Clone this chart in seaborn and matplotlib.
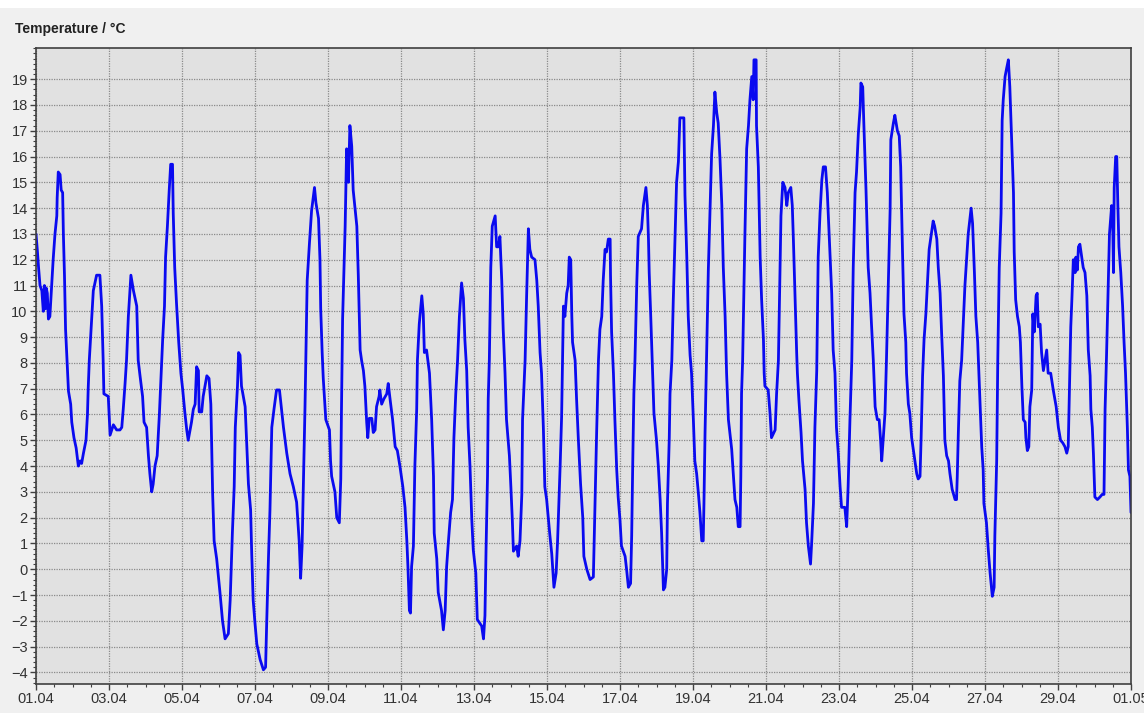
import numpy as np
import pandas as pd
import matplotlib
matplotlib.use("Agg")
import matplotlib.pyplot as plt
import matplotlib.dates as mdates
from matplotlib.ticker import MultipleLocator
import seaborn as sns

# ------------------------------------------------
# DATA
# ------------------------------------------------

START = "2015-04-01"

# days since 01.04 00:00
day_offset = [
    0.00, 0.04, 0.07, 0.11, 0.16, 0.20, 0.23, 0.26, 0.28, 0.31, 0.34, 0.38, 0.43, 0.47, 0.52, 0.57,
    0.58, 0.61, 0.66, 0.69, 0.73, 0.75, 0.78, 0.81, 0.86, 0.89, 0.95, 0.98, 1.04, 1.10, 1.16, 1.21,
    1.25, 1.30, 1.37, 1.41, 1.43, 1.46, 1.53, 1.57, 1.66, 1.75, 1.80, 1.84, 1.86, 1.98, 2.03, 2.12,
    2.21, 2.30, 2.35, 2.39, 2.44, 2.48, 2.53, 2.60, 2.67, 2.76, 2.80, 2.85, 2.92, 2.96, 3.03, 3.08,
    3.12, 3.17, 3.21, 3.26, 3.32, 3.38, 3.42, 3.47, 3.52, 3.55, 3.60, 3.65, 3.69, 3.74, 3.76, 3.80,
    3.85, 3.91, 3.97, 4.02, 4.08, 4.13, 4.17, 4.22, 4.26, 4.31, 4.36, 4.40, 4.45, 4.47, 4.54, 4.58,
    4.68, 4.74, 4.79, 4.84, 4.88, 4.95, 5.04, 5.11, 5.18, 5.27, 5.32, 5.38, 5.43, 5.46, 5.52, 5.55,
    5.59, 5.63, 5.73, 5.77, 5.82, 5.88, 5.91, 5.95, 6.00, 6.05, 6.14, 6.23, 6.29, 6.32, 6.37, 6.41,
    6.46, 6.52, 6.59, 6.67, 6.78, 6.87, 6.96, 7.05, 7.14, 7.21, 7.25, 7.29, 7.32, 7.37, 7.40, 7.43,
    7.49, 7.55, 7.63, 7.67, 7.74, 7.78, 7.80, 7.84, 7.87, 7.94, 8.04, 8.07, 8.10, 8.19, 8.24, 8.31,
    8.35, 8.37, 8.40, 8.47, 8.51, 8.56, 8.60, 8.65, 8.69, 8.79, 8.83, 8.88, 8.92, 8.97, 9.01, 9.06,
    9.09, 9.13, 9.20, 9.24, 9.29, 9.33, 9.40, 9.42, 9.47, 9.53, 9.61, 9.65, 9.70, 9.77, 9.84, 9.90,
    9.97, 10.05, 10.11, 10.16, 10.19, 10.23, 10.26, 10.29, 10.34, 10.38, 10.43, 10.45, 10.50, 10.57,
    10.61, 10.64, 10.70, 10.78, 10.84, 10.89, 10.91, 10.98, 11.02, 11.11, 11.16, 11.21, 11.25, 11.30,
    11.36, 11.41, 11.45, 11.50, 11.55, 11.60, 11.66, 11.71, 11.75, 11.80, 11.84, 11.89, 11.94, 11.98,
    12.05, 12.09, 12.16, 12.21, 12.26, 12.30, 12.33, 12.37, 12.39, 12.42, 12.46, 12.50, 12.58, 12.62,
    12.67, 12.71, 12.76, 12.80, 12.85, 12.89, 12.97, 13.01, 13.05, 13.08, 13.17, 13.21, 13.26, 13.31,
    13.33, 13.40, 13.44, 13.49, 13.53, 13.58, 13.67, 13.72, 13.76, 13.81, 13.85, 13.90, 13.94, 13.99,
    14.08, 14.13, 14.19, 14.25, 14.29, 14.36, 14.40, 14.45, 14.49, 14.54, 14.58, 14.61, 14.65, 14.68,
    14.70, 14.77, 14.81, 14.86, 14.92, 14.98, 15.01, 15.09, 15.18, 15.27, 15.32, 15.36, 15.41, 15.45,
    15.50, 15.54, 15.59, 15.63, 15.68, 15.73, 15.74, 15.77, 15.82, 15.86, 15.91, 15.95, 16.00, 16.04,
    16.14, 16.18, 16.23, 16.29, 16.32, 16.35, 16.38, 16.41, 16.46, 16.50, 16.59, 16.64, 16.71, 16.75,
    16.78, 16.80, 16.84, 16.89, 16.93, 17.00, 17.05, 17.10, 17.14, 17.19, 17.23, 17.28, 17.30, 17.35,
    17.37, 17.42, 17.46, 17.51, 17.55, 17.60, 17.64, 17.75, 17.78, 17.83, 17.87, 17.92, 17.96, 18.01,
    18.05, 18.10, 18.15, 18.19, 18.24, 18.28, 18.30, 18.33, 18.37, 18.42, 18.47, 18.51, 18.56, 18.60,
    18.65, 18.69, 18.74, 18.79, 18.83, 18.88, 18.92, 18.97, 19.06, 19.11, 19.15, 19.20, 19.24, 19.29,
    19.31, 19.33, 19.36, 19.42, 19.47, 19.52, 19.56, 19.61, 19.65, 19.67, 19.73, 19.74, 19.79, 19.84,
    19.88, 19.93, 19.95, 19.97, 20.06, 20.11, 20.15, 20.25, 20.29, 20.34, 20.38, 20.41, 20.46, 20.52,
    20.57, 20.61, 20.68, 20.72, 20.75, 20.79, 20.84, 20.86, 20.90, 20.96, 21.00, 21.07, 21.11, 21.16,
    21.22, 21.25, 21.30, 21.34, 21.39, 21.43, 21.48, 21.53, 21.57, 21.63, 21.68, 21.73, 21.80, 21.84,
    21.89, 21.93, 21.98, 22.03, 22.07, 22.16, 22.21, 22.25, 22.30, 22.35, 22.39, 22.44, 22.48, 22.53,
    22.58, 22.60, 22.65, 22.68, 22.74, 22.80, 22.85, 22.89, 22.94, 22.99, 23.05, 23.10, 23.14, 23.17,
    23.21, 23.26, 23.30, 23.35, 23.40, 23.42, 23.49, 23.53, 23.60, 23.65, 23.69, 23.74, 23.78, 23.83,
    23.85, 23.90, 23.94, 23.99, 24.04, 24.08, 24.13, 24.17, 24.22, 24.25, 24.29, 24.33, 24.38, 24.42,
    24.47, 24.53, 24.58, 24.62, 24.68, 24.72, 24.77, 24.81, 24.86, 24.90, 24.95, 25.00, 25.04, 25.10,
    25.18, 25.22, 25.24, 25.27, 25.31, 25.36, 25.41, 25.45, 25.50, 25.54, 25.62, 25.66, 25.71, 25.75,
    25.80, 25.84, 25.91, 25.95, 25.97, 26.04, 26.09, 26.14, 26.20, 26.25, 26.27, 26.32, 26.35, 26.39,
    26.44, 26.47, 26.50, 26.55, 26.59, 26.64, 26.68, 26.73, 26.78, 26.80, 26.84, 26.89, 26.94, 26.97,
    27.01, 27.05, 27.10, 27.12, 27.16, 27.20, 27.23, 27.28, 27.31, 27.35, 27.40, 27.43, 27.46, 27.51,
    27.55, 27.60, 27.69, 27.73, 27.80, 27.87, 27.95, 28.01, 28.07, 28.13, 28.19, 28.24, 28.28, 28.31,
    28.35, 28.38, 28.42, 28.47, 28.49, 28.53, 28.56, 28.60, 28.65, 28.69, 28.74, 28.79, 28.83, 28.88,
    28.90, 28.94, 28.97, 29.01, 29.08, 29.15, 29.21, 29.26, 29.29, 29.33, 29.38, 29.41, 29.47, 29.50,
    29.52, 29.54, 29.58, 29.61, 29.64, 29.67, 29.72, 29.77, 29.81, 29.85, 29.90, 29.93, 29.97, 30.00,
]

temperature = [
    13.0, 12.3, 11.7, 11.0, 10.8, 10.0, 11.0, 10.1, 10.9, 10.7, 9.7, 9.8, 11.0, 12.0, 13.0, 13.7,
    14.4, 15.4, 15.3, 14.7, 14.6, 13.0, 11.4, 9.3, 7.8, 6.9, 6.4, 5.7, 5.1, 4.7, 4.0, 4.2,
    4.1, 4.5, 5.0, 6.0, 7.0, 8.1, 9.8, 10.8, 11.4, 11.4, 10.2, 8.1, 6.8, 6.7, 5.2, 5.6,
    5.4, 5.4, 5.5, 6.2, 7.2, 8.1, 9.8, 11.4, 10.8, 10.2, 8.1, 7.5, 6.7, 5.7, 5.5, 4.4,
    3.7, 3.0, 3.3, 4.0, 4.4, 6.0, 7.3, 8.9, 10.2, 12.1, 13.3, 14.7, 15.7, 15.7, 13.8, 11.7,
    10.3, 8.8, 7.6, 6.95, 6.05, 5.4, 5.0, 5.4, 5.7, 6.2, 6.4, 7.85, 7.7, 6.1, 6.1, 6.7,
    7.5, 7.4, 6.4, 2.9, 1.1, 0.4, -0.9, -2.0, -2.7, -2.5, -1.2, 1.4, 3.2, 5.5, 7.1, 8.4,
    8.3, 7.1, 6.3, 5.0, 3.3, 2.3, 0.6, -1.2, -2.1, -2.9, -3.5, -3.9, -3.8, -2.1, 0.5, 2.3,
    5.5, 6.2, 6.95, 6.95, 5.5, 4.5, 3.7, 3.2, 2.6, 1.1, -0.35, 0.9, 2.9, 6.3, 8.8, 11.2,
    12.6, 13.9, 14.8, 14.2, 13.6, 12.0, 10.1, 8.4, 7.4, 5.8, 5.4, 4.2, 3.6, 3.0, 2.0, 1.8,
    3.5, 6.3, 9.7, 13.3, 16.3, 15.0, 17.2, 16.4, 14.7, 13.3, 11.4, 8.5, 8.1, 7.7, 7.1, 5.7,
    5.1, 5.85, 5.85, 5.3, 5.4, 6.3, 6.7, 6.95, 6.4, 6.6, 6.8, 7.2, 6.6, 5.8, 4.75, 4.6,
    4.0, 3.2, 2.4, 1.1, 0.1, -1.6, -1.7, 0.1, 0.9, 4.0, 6.2, 8.1, 9.5, 10.6,
    9.9, 8.4, 8.5, 7.6, 5.8, 3.6, 1.4, 0.4, -0.9, -1.6, -2.35, -1.6, 0.1, 1.1,
    2.2, 2.7, 5.1, 6.8, 8.1, 9.8, 11.1, 10.5, 8.9, 7.7, 5.5, 4.0, 1.9, 0.75,
    -0.15, -1.95, -2.1, -2.2, -2.7, -1.8, 0.75, 3.6, 6.6, 8.1, 11.7, 13.3, 13.7, 12.5,
    12.5, 12.9, 11.2, 9.3, 7.6, 5.8, 4.4, 3.2, 1.9, 0.7, 0.9, 0.5, 1.1, 2.9,
    5.8, 8.1, 10.5, 13.2, 12.4, 12.1, 12.0, 11.2, 10.2, 8.4, 7.6, 5.5, 3.2, 2.7,
    1.3, 0.6, -0.7, -0.15, 1.1, 4.0, 5.9, 10.2, 9.8, 10.7, 11.0, 12.1, 12.0, 9.8,
    8.8, 8.1, 6.6, 5.0, 3.3, 2.0, 0.5, 0.0, -0.4, -0.3, 2.9, 5.3, 8.1, 9.3,
    9.8, 11.2, 12.4, 12.3, 12.8, 12.8, 11.4, 9.2, 7.6, 5.8, 3.85, 2.8, 1.9, 0.9,
    0.5, 0.0, -0.7, -0.55, 1.3, 4.2, 6.8, 8.1, 11.1, 12.9, 13.2, 14.1, 14.8, 14.1,
    12.8, 11.5, 9.9, 7.7, 6.05, 5.0, 4.0, 2.7, 1.4, -0.8, -0.7, 0.0, 2.55, 5.1,
    6.8, 8.1, 10.45, 13.0, 15.0, 15.8, 17.5, 17.5, 14.5, 12.1, 9.8, 8.3, 7.6, 5.8,
    4.2, 3.7, 2.9, 2.2, 1.1, 1.1, 2.55, 5.3, 8.1, 11.6, 14.1, 16.1, 17.2, 18.5,
    17.7, 17.3, 15.9, 14.1, 11.7, 9.8, 7.6, 5.8, 4.65, 3.6, 2.7, 2.4, 1.65, 1.65,
    3.6, 6.8, 8.1, 12.8, 16.3, 17.2, 18.2, 19.1, 18.2, 19.75, 19.75, 17.2, 15.6, 12.1,
    10.45, 8.9, 7.6, 7.1, 6.95, 6.05, 5.1, 5.4, 6.8, 8.1, 11.2, 13.7, 15.0, 14.8,
    14.1, 14.6, 14.8, 14.1, 12.8, 10.8, 8.4, 7.6, 6.6, 5.3, 4.2, 3.1, 1.8, 0.9,
    0.2, 1.0, 2.55, 5.5, 7.7, 12.1, 13.8, 15.1, 15.6, 15.6, 14.6, 13.0, 10.7, 8.5,
    7.6, 5.5, 4.5, 3.2, 2.4, 2.4, 1.65, 3.2, 5.8, 8.1, 11.7, 14.6, 15.4, 16.9,
    17.9, 18.85, 18.7, 17.3, 14.7, 11.7, 10.7, 9.5, 8.1, 6.3, 5.8, 5.8, 5.0, 4.2,
    5.0, 6.05, 8.1, 11.0, 13.9, 16.65, 17.3, 17.6, 17.0, 16.8, 15.6, 12.3, 9.9, 8.8,
    7.6, 6.4, 6.05, 5.1, 4.6, 4.2, 3.7, 3.5, 3.6, 5.1, 7.5, 8.9, 9.9, 11.0,
    12.4, 13.0, 13.5, 13.3, 12.8, 11.7, 10.7, 9.2, 7.5, 5.0, 4.4, 4.2, 3.7, 3.1,
    2.7, 2.7, 3.6, 5.3, 7.3, 8.1, 9.7, 11.0, 12.1, 13.0, 14.0, 13.4, 11.5, 9.8,
    8.8, 7.3, 4.75, 3.85, 2.55, 1.8, 0.75, -0.15, -1.05, -0.7, 1.3, 4.2, 8.1, 11.7,
    13.8, 17.4, 18.2, 19.1, 19.4, 19.75, 18.7, 16.65, 14.6, 12.3, 10.45, 9.8, 9.4, 8.8,
    7.1, 5.8, 5.7, 5.1, 4.6, 4.75, 6.3, 6.95, 9.9, 9.2, 10.6, 10.7, 9.4, 9.5,
    8.4, 7.7, 8.5, 7.6, 7.6, 6.95, 6.3, 5.5, 5.0, 4.9, 4.75, 4.5, 4.75, 6.8,
    9.4, 10.45, 12.0, 11.5, 12.1, 11.6, 12.5, 12.6, 12.1, 11.7, 11.5, 10.6, 8.5, 7.5,
    6.2, 5.5, 4.5, 2.8, 2.7, 2.8, 2.9, 2.9, 6.2, 8.3, 11.2, 13.0, 14.1, 13.3,
    11.5, 14.8, 16.0, 16.0, 14.1, 12.5, 11.5, 10.2, 8.8, 7.6, 5.5, 3.85, 3.6, 2.2,
]

y_ticks = list(range(-4, 20))
x_tick_days = list(range(0, 31, 2))

# ------------------------------------------------
# PLOT
# ------------------------------------------------

df = pd.DataFrame({
    "time": pd.Timestamp(START) + pd.to_timedelta(day_offset, unit="D"),
    "temp": temperature,
})

sns.set_style("white")
plt.rcParams["font.family"] = ["Liberation Sans", "DejaVu Sans"]

fig = plt.figure(figsize=(11.44, 7.13), dpi=100)
fig.patch.set_facecolor("#f0f0f0")
fig.patches.append(plt.Rectangle((0, 1 - 8 / 713), 1, 8 / 713, transform=fig.transFigure,
                                 facecolor="white", edgecolor="none", zorder=0))

ax = fig.add_axes([36 / 1144, 1 - 684 / 713, (1131 - 36) / 1144, (684 - 47.7) / 713])
ax.set_facecolor("#e1e1e1")

sns.lineplot(data=df, x="time", y="temp", ax=ax, estimator=None, sort=False,
             color="#0a0af0", linewidth=2.0)

start = pd.Timestamp(START)
ax.set_xlim(start, start + pd.Timedelta(days=30))
ax.set_ylim(-4.45, 20.22)

ax.set_xticks([start + pd.Timedelta(days=d) for d in x_tick_days])
ax.xaxis.set_major_formatter(mdates.DateFormatter("%d.%m"))
ax.xaxis.set_minor_locator(mdates.HourLocator(byhour=[0, 12]))
ax.set_yticks(y_ticks)
ax.yaxis.set_minor_locator(MultipleLocator(0.2))

ax.grid(True, which="major", color="#8a8a8a", linestyle=(0, (1, 1)), linewidth=0.9)
ax.tick_params(which="major", direction="out", length=4, width=1, color="#404040",
               labelsize=10.5, labelcolor="#333333", pad=2)
ax.tick_params(which="minor", direction="out", length=2, width=0.8, color="#404040")
ax.tick_params(axis="y", which="both", left=True)
ax.tick_params(axis="x", which="both", bottom=True)

for spine in ax.spines.values():
    spine.set_color("#404040")
    spine.set_linewidth(1.2)

ax.set_xlabel("")
ax.set_ylabel("")

fig.text(15 / 1144, 1 - 29 / 713, "Temperature / °C", fontsize=10, fontweight="bold",
         color="#222222", va="center", ha="left")

fig.savefig("out.png", dpi=100, facecolor=fig.get_facecolor())
